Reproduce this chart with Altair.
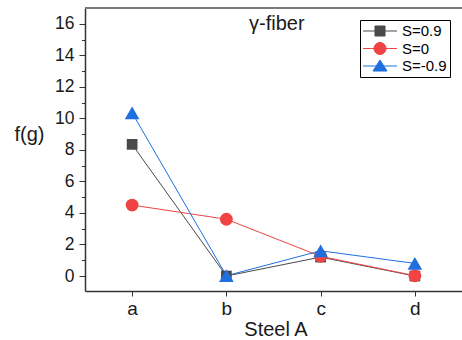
import altair as alt
import pandas as pd

categories = ["a", "b", "c", "d"]
series = ["S=0.9", "S=0", "S=-0.9"]
values_s09 = [8.35, 0.0, 1.2, 0.0]
values_s0 = [4.5, 3.6, 1.25, 0.02]
values_sm09 = [10.35, 0.02, 1.6, 0.8]
colors = ["#4a4a4a", "#f04444", "#1f6fe0"]
shapes = ["square", "circle", "triangle-up"]
sizes = [115, 165, 215]
legend_paths = [
    "M-2.27,0H2.27M-0.67,-0.67H0.67V0.67H-0.67Z",
    "M-2.27,0H2.27M0.8,0A0.8,0.8 0 1 1 -0.8,0A0.8,0.8 0 1 1 0.8,0Z",
    "M-2.27,0H2.27M0,-0.8L0.93,0.67H-0.93Z",
]
annotation = ["γ-fiber"]

rows = []
for i, (s, vals) in enumerate(zip(series, [values_s09, values_s0, values_sm09])):
    for c, v in zip(categories, vals):
        rows.append({"cat": c, "S": s, "f": v, "order": i,
                     "col": colors[i], "shp": shapes[i], "sz": sizes[i]})
df = pd.DataFrame(rows)

FONT = "Liberation Sans"
W, H = 377, 283

x_enc = alt.X(
    "cat:N",
    scale=alt.Scale(type="point", domain=categories, padding=0.5),
    axis=alt.Axis(
        title="Steel A", labelAngle=0, labelFontSize=19, titleFontSize=20,
        labelFont=FONT, titleFont=FONT, labelColor="#1a1a1a", titleColor="#1a1a1a",
        tickSize=5, labelPadding=18, labelBaseline="alphabetic",
        titleBaseline="alphabetic", titleY=44, titleX=W / 2 + 2, titleFontWeight="normal",
        domainColor="#333333", tickColor="#333333", domainWidth=1.5, grid=False,
    ),
)
y_enc = alt.Y(
    "f:Q",
    scale=alt.Scale(domain=[-0.95, 17.0], nice=False, zero=False),
    axis=alt.Axis(
        title="f(g)", values=list(range(0, 17)),
        labelExpr="datum.value % 2 == 0 ? datum.label : ''",
        tickSize={"condition": {"test": "datum.value % 2 != 0", "value": 3.5}, "value": 6},
        labelFontSize=17.5, titleFontSize=20, labelFont=FONT, titleFont=FONT,
        labelColor="#1a1a1a", titleColor="#1a1a1a", labelPadding=5,
        titleAngle=0, titleX=-56, titleY=132, titleAlign="center",
        titleBaseline="alphabetic", titleFontWeight="normal",
        domainColor="#333333", tickColor="#333333", domainWidth=1.5, grid=False,
    ),
)

lines = alt.Chart(df).mark_line(strokeWidth=1).encode(
    x=x_enc, y=y_enc,
    color=alt.Color("col:N", scale=None),
    detail="S:N",
    order=alt.Order("order:Q"),
)
points = alt.Chart(df).mark_point(filled=True, opacity=1).encode(
    x=x_enc, y=y_enc,
    color=alt.Color("col:N", scale=None),
    shape=alt.Shape("shp:N", scale=None),
    size=alt.Size("sz:Q", scale=None),
    order=alt.Order("order:Q"),
)

leg = alt.Legend(
    title=None, orient="none", legendX=275, legendY=12,
    strokeColor="#000000", padding=3, symbolSize=225, symbolStrokeWidth=1,
    symbolOffset=9, labelOffset=14, rowPadding=1.5, labelFontSize=15,
    labelFont=FONT, labelColor="#000000", labelLimit=200,
)
legend_layer = alt.Chart(df).transform_filter("false").mark_point(
    filled=True, opacity=1
).encode(
    x=x_enc, y=y_enc,
    fill=alt.Fill("S:N", scale=alt.Scale(domain=series, range=colors), legend=leg),
    stroke=alt.Stroke("S:N", scale=alt.Scale(domain=series, range=colors), legend=leg),
    shape=alt.Shape("S:N", scale=alt.Scale(domain=series, range=legend_paths), legend=leg),
)

top_frame = alt.Chart(df).mark_rule(color="#7a7a7a", strokeWidth=2).encode(
    x=alt.value(0), x2=alt.value(W), y=alt.value(0)
)

text = alt.Chart(pd.DataFrame({"t": annotation})).mark_text(
    align="left", baseline="alphabetic", fontSize=20, font=FONT, color="#1a1a1a"
).encode(text="t:N", x=alt.value(164), y=alt.value(22))

chart = alt.layer(lines, points, legend_layer, top_frame, text).properties(
    width=W, height=H,
    autosize=alt.AutoSizeParams(type="none"),
    padding={"left": 85, "top": 8, "right": 0, "bottom": 49},
    background="white",
).configure_view(stroke=None)

chart.save("out.html", embed_options={"renderer": "svg", "actions": False})
